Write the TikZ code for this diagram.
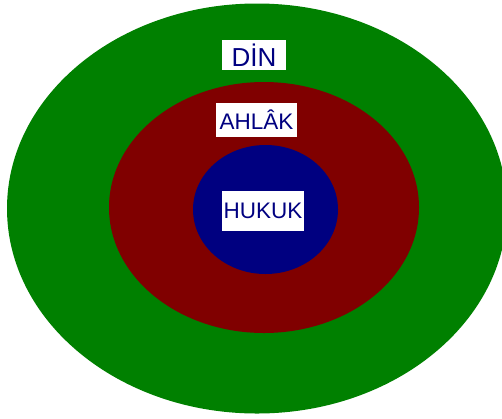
\documentclass[tikz,border=0pt]{standalone}
\usepackage{fontspec}
\setmainfont{Liberation Sans}
\usetikzlibrary{shapes.geometric}

\definecolor{dingreen}{RGB}{0,128,0}
\definecolor{ahlakred}{RGB}{128,0,0}
\definecolor{hukukblue}{RGB}{0,0,128}

\begin{document}
\begin{tikzpicture}[x=1pt, y=-1pt]
    \tikzset{layer/.style={ellipse, draw=none, inner sep=0pt},
             tag/.style={fill=white, text=hukukblue, inner sep=0pt,
                         font=\fontsize{22.5}{26}\selectfont}}
    \useasboundingbox (0,0) rectangle (502,418);
    \node[layer, fill=dingreen,  minimum width=500pt, minimum height=410pt] (din)   at (257,208.5) {};
    \node[layer, fill=ahlakred,  minimum width=310pt, minimum height=251pt] (ahlak) at (264,207.5) {};
    \node[layer, fill=hukukblue, minimum width=145pt, minimum height=129pt] (hukuk) at (265.5,209.5) {};
    \node[tag, minimum width=64pt, minimum height=30pt, font=\fontsize{26}{30}\selectfont] (dintag) at (254,55) {DİN};
    \node[tag, minimum width=81pt, minimum height=34pt] (ahlaktag) at (256.5,120) {AHLÂK};
    \node[tag, minimum width=82pt, minimum height=40pt] (hukuktag) at (263,211) {HUKUK};
\end{tikzpicture}
\end{document}
